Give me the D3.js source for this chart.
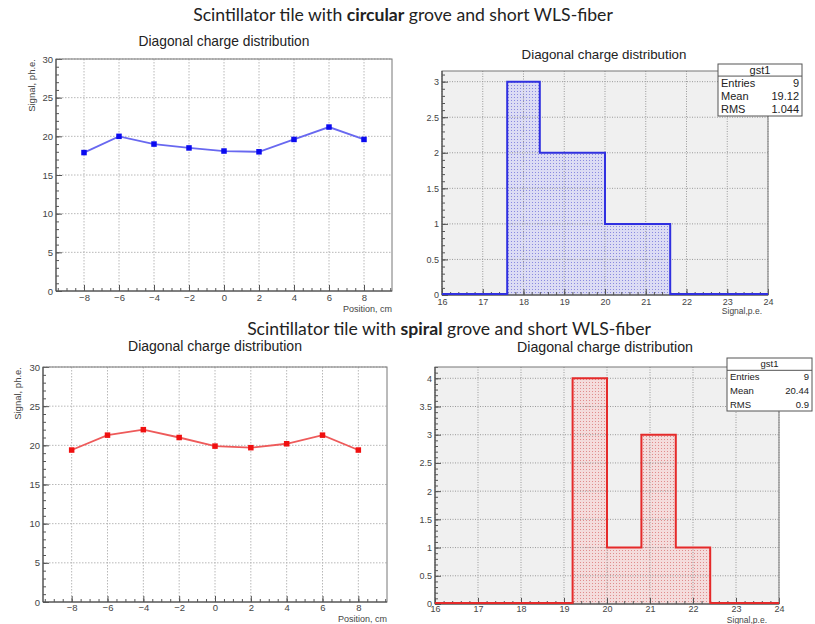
<!DOCTYPE html>
<html><head><meta charset="utf-8">
<script src="https://cdn.jsdelivr.net/npm/d3@7"></script>
<style>body{margin:0;background:#fff}svg{display:block}</style>
</head><body><svg id="c" width="815" height="624"></svg>
<script>
// ---- data ----
const positions = [-8, -6, -4, -2, 0, 2, 4, 6, 8];
const signalCircular = [17.9, 20.0, 19.0, 18.5, 18.1, 18.0, 19.6, 21.2, 19.6];
const signalSpiral = [19.4, 21.3, 22.0, 21.0, 19.9, 19.7, 20.2, 21.3, 19.4];
const binEdges = [16, 16.8, 17.6, 18.4, 19.2, 20.0, 20.8, 21.6, 22.4, 23.2, 24];
const countsCircular = [0, 0, 3, 2, 2, 1, 1, 0, 0, 0];
const countsSpiral = [0, 0, 0, 0, 4, 1, 3, 1, 0, 0];
const statLabels = ["Entries", "Mean", "RMS"];
const statsCircular = ["9", "19.12", "1.044"];
const statsSpiral = ["9", "20.44", "0.9"];
const statsTitle = "gst1";
const xTicksLine = [-8, -6, -4, -2, 0, 2, 4, 6, 8];
const yTicksLine = [0, 5, 10, 15, 20, 25, 30];
const xTicksHist = [16, 17, 18, 19, 20, 21, 22, 23, 24];
const yTicksHistCircular = [0, 0.5, 1, 1.5, 2, 2.5, 3];
const yTicksHistSpiral = [0, 0.5, 1, 1.5, 2, 2.5, 3, 3.5, 4];
const subTitle = "Diagonal charge distribution";
const xTitleLine = "Position, cm";
const yTitleLine = "Signal, ph.e.";
const xTitleHist = "Signal,p.e.";

const svg = d3.select("#c");
const ROOTFONT = "'Liberation Sans', Arial, sans-serif";

function fit(sel, target) {
  const w = sel.node().getComputedTextLength();
  const fs = parseFloat(sel.attr("font-size"));
  sel.attr("font-size", (fs * target / w).toFixed(2));
}

function mainTitle(cx, y, word, width) {
  const t = svg.append("text").attr("x", cx).attr("y", y).attr("text-anchor", "middle")
    .attr("font-family", "Lato, 'Open Sans', sans-serif").attr("font-size", 16).attr("fill", "#222");
  t.append("tspan").text("Scintillator tile with ");
  t.append("tspan").attr("font-weight", "bold").text(word);
  t.append("tspan").text(" grove and short WLS-fiber");
  fit(t, width);
}

function axes(g, f, x, y, xMajor, xMinorStep, yMajor, yMinorStep, xFmt, yFmt, gridColor, gridDash, fs) {
  const [xa, xb] = x.domain(), [ya, yb] = y.domain();
  const xMinor = d3.range(Math.ceil(xa / xMinorStep - 1e-9) * xMinorStep, xb + 1e-9, xMinorStep);
  const yMinor = d3.range(Math.ceil(ya / yMinorStep - 1e-9) * yMinorStep, yb + 1e-9, yMinorStep);
  // grid
  g.append("g").selectAll("line").data(xMajor).join("line")
    .attr("x1", d => x(d)).attr("x2", d => x(d)).attr("y1", f.y0).attr("y2", f.y1)
    .attr("stroke", gridColor).attr("stroke-dasharray", gridDash).attr("stroke-width", 1);
  g.append("g").selectAll("line").data(yMajor.filter(d => d > ya)).join("line")
    .attr("y1", d => y(d)).attr("y2", d => y(d)).attr("x1", f.x0).attr("x2", f.x1)
    .attr("stroke", gridColor).attr("stroke-dasharray", gridDash).attr("stroke-width", 1);
  // minor ticks
  g.append("g").attr("transform", `translate(0,${f.y1})`)
    .call(d3.axisBottom(x).tickValues(xMinor).tickSize(-3).tickSizeOuter(0).tickFormat(""))
    .call(s => s.select(".domain").remove()).selectAll("line").attr("stroke", "#555");
  g.append("g").attr("transform", `translate(${f.x0},0)`)
    .call(d3.axisLeft(y).tickValues(yMinor).tickSize(-3).tickSizeOuter(0).tickFormat(""))
    .call(s => s.select(".domain").remove()).selectAll("line").attr("stroke", "#555");
  // major
  const xg = g.append("g").attr("transform", `translate(0,${f.y1})`)
    .call(d3.axisBottom(x).tickValues(xMajor).tickSize(-6).tickSizeOuter(0).tickPadding(f.xpad).tickFormat(xFmt));
  const yg = g.append("g").attr("transform", `translate(${f.x0},0)`)
    .call(d3.axisLeft(y).tickValues(yMajor).tickSize(-6).tickSizeOuter(0).tickPadding(3).tickFormat(yFmt));
  [xg, yg].forEach(s => {
    s.select(".domain").remove();
    s.selectAll("line").attr("stroke", "#555");
    s.selectAll("text").attr("font-family", ROOTFONT).attr("font-size", fs).attr("fill", "#444");
  });
  // frame
  g.append("rect").attr("x", f.x0).attr("y", f.y0).attr("width", f.x1 - f.x0).attr("height", f.y1 - f.y0)
    .attr("fill", "none").attr("stroke", "#777").attr("stroke-width", 1);
  g.append("line").attr("x1", f.x0).attr("x2", f.x1).attr("y1", f.y1).attr("y2", f.y1).attr("stroke", "#444");
  g.append("line").attr("x1", f.x0).attr("x2", f.x0).attr("y1", f.y0).attr("y2", f.y1).attr("stroke", "#444");
}

function subTitleText(cx, y, width) {
  const t = svg.append("text").attr("x", cx).attr("y", y).attr("text-anchor", "middle")
    .attr("font-family", ROOTFONT).attr("font-size", 13).attr("fill", "#222").text(subTitle);
  fit(t, width);
}

function linePanel(f, values, markerColor, lineColor, title, yTitleX, xTitleY) {
  const g = svg.append("g");
  const x = d3.scaleLinear().domain([-9.6, 9.6]).range([f.x0, f.x1]);
  const y = d3.scaleLinear().domain([0, 30]).range([f.y1, f.y0]);
  g.append("rect").attr("x", f.x0).attr("y", f.y0).attr("width", f.x1 - f.x0).attr("height", f.y1 - f.y0).attr("fill", "#fff");
  axes(g, f, x, y, xTicksLine, 0.5, yTicksLine, 1, d3.format("d"), d3.format("d"), "#b8b8b8", "1.5,1.5", 9.5);
  const pts = positions.map((p, i) => [p, values[i]]);
  g.append("path").datum(pts).attr("fill", "none").attr("stroke", lineColor).attr("stroke-width", 1.8)
    .attr("d", d3.line().x(d => x(d[0])).y(d => y(d[1])));
  const s = 5.5;
  g.selectAll("rect.m").data(pts).join("rect").attr("class", "m")
    .attr("x", d => x(d[0]) - s / 2).attr("y", d => y(d[1]) - s / 2).attr("width", s).attr("height", s)
    .attr("fill", markerColor);
  subTitleText(title.cx, title.y, title.w);
  g.append("text").attr("x", f.x1).attr("y", xTitleY).attr("text-anchor", "end")
    .attr("font-family", ROOTFONT).attr("font-size", 9).attr("fill", "#444").text(xTitleLine);
  g.append("text").attr("transform", `translate(${yTitleX},${f.y0}) rotate(-90)`).attr("text-anchor", "end")
    .attr("dy", "0.35em").attr("font-family", ROOTFONT).attr("font-size", 9.5).attr("fill", "#444").text(yTitleLine);
}

function histPanel(f, counts, yMax, yTicks, color, patId, patBg, patDot, title, stats, box, xTitle) {
  const g = svg.append("g");
  const defs = svg.append("defs");
  const pat = defs.append("pattern").attr("id", patId).attr("patternUnits", "userSpaceOnUse")
    .attr("width", 3).attr("height", 3);
  pat.append("rect").attr("width", 3).attr("height", 3).attr("fill", patBg);
  pat.append("rect").attr("x", 1).attr("y", 1).attr("width", 1).attr("height", 1).attr("fill", patDot);
  const x = d3.scaleLinear().domain([16, 24]).range([f.x0, f.x1]);
  const y = d3.scaleLinear().domain([0, yMax]).range([f.y1, f.y0]);
  g.append("rect").attr("x", f.x0).attr("y", f.y0).attr("width", f.x1 - f.x0).attr("height", f.y1 - f.y0).attr("fill", "#f0f0f0");
  // fill bars
  const bins = counts.map((c, i) => ({ a: binEdges[i], b: binEdges[i + 1], c }));
  g.selectAll("rect.bar").data(bins.filter(d => d.c > 0)).join("rect").attr("class", "bar")
    .attr("x", d => x(d.a)).attr("width", d => x(d.b) - x(d.a))
    .attr("y", d => y(d.c)).attr("height", d => y(0) - y(d.c)).attr("fill", `url(#${patId})`);
  axes(g, f, x, y, xTicksHist, 0.2, yTicks, 0.1, d3.format("d"), d => d3.format("")(d), "#9a9a9a", "1,1.5", 9);
  // outline step path
  const step = [[binEdges[0], 0]];
  bins.forEach(d => { step.push([d.a, d.c]); step.push([d.b, d.c]); });
  step.push([binEdges[binEdges.length - 1], 0]);
  g.append("path").datum(step).attr("fill", "none").attr("stroke", color).attr("stroke-width", 2)
    .attr("d", d3.line().x(d => x(d[0])).y(d => y(d[1]) - (d[1] === 0 ? 1 : 0)));
  subTitleText(title.cx, title.y, title.w);
  // stats box
  const sb = g.append("g");
  sb.append("rect").attr("x", box.x).attr("y", box.y).attr("width", box.w).attr("height", box.h)
    .attr("fill", "#fff").attr("stroke", "#555");
  const hh = box.h / 4.3;
  sb.append("line").attr("x1", box.x).attr("x2", box.x + box.w).attr("y1", box.y + hh).attr("y2", box.y + hh).attr("stroke", "#555");
  sb.append("text").attr("x", box.x + box.w / 2).attr("y", box.y + hh / 2).attr("dy", "0.35em").attr("text-anchor", "middle")
    .attr("font-family", ROOTFONT).attr("font-size", box.fs).attr("fill", "#222").text(statsTitle);
  const rh = (box.h - hh) / 3;
  statLabels.forEach((l, i) => {
    const yy = box.y + hh + rh * (i + 0.5);
    sb.append("text").attr("x", box.x + 3).attr("y", yy).attr("dy", "0.35em")
      .attr("font-family", ROOTFONT).attr("font-size", box.fs).attr("fill", "#222").text(l);
    sb.append("text").attr("x", box.x + box.w - 3).attr("y", yy).attr("dy", "0.35em").attr("text-anchor", "end")
      .attr("font-family", ROOTFONT).attr("font-size", box.fs).attr("fill", "#222").text(stats[i]);
  });
  g.append("text").attr("x", xTitle.x).attr("y", xTitle.y).attr("text-anchor", "end")
    .attr("font-family", ROOTFONT).attr("font-size", 8.5).attr("fill", "#444").text(xTitleHist);
}

mainTitle(403, 21, "circular", 420);
mainTitle(449, 335, "spiral", 404);

linePanel({ x0: 56, x1: 392, y0: 59, y1: 291, xpad: 3 }, signalCircular, "#0a0af0", "#6868f0",
  { cx: 224, y: 46, w: 171 }, 32, 312);
linePanel({ x0: 43, x1: 387, y0: 367, y1: 602, xpad: 2 }, signalSpiral, "#f01010", "#ee5a5a",
  { cx: 215, y: 351, w: 174 }, 18, 622);

histPanel({ x0: 442, x1: 768, y0: 71, y1: 295, xpad: 4 }, countsCircular, 3.15, yTicksHistCircular, "#3030e0",
  "patB", "#dcdcf4", "#8a8ae0", { cx: 604, y: 59, w: 165 }, statsCircular,
  { x: 718, y: 64, w: 84, h: 52, fs: 11 }, { x: 762, y: 314 });
histPanel({ x0: 435, x1: 779, y0: 367, y1: 604, xpad: 2 }, countsSpiral, 4.2, yTicksHistSpiral, "#e52a2a",
  "patR", "#f4dcdc", "#e08c8c", { cx: 605, y: 352, w: 176 }, statsSpiral,
  { x: 727, y: 358, w: 85, h: 53, fs: 9.5 }, { x: 767, y: 623 });
</script></body></html>
